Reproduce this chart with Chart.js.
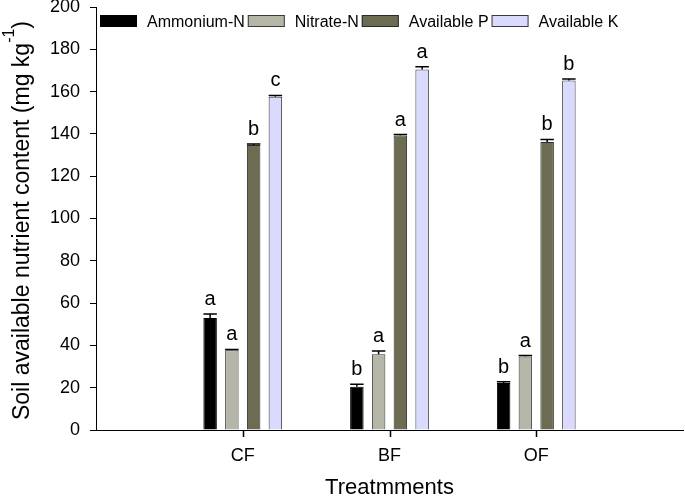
<!DOCTYPE html>
<html>
<head>
<meta charset="utf-8">
<script src="https://cdn.jsdelivr.net/npm/chart.js@4.4.1/dist/chart.umd.min.js"></script>
<style>
  html, body { margin: 0; padding: 0; background: #fff; }
  #wrap { width: 685px; height: 496px; position: relative; }
</style>
</head>
<body>
<div id="wrap"><canvas id="chart"></canvas></div>
<script>
// Categories (empty slots at the ends give the axis its margins)
const categories = ['', 'CF', 'BF', 'OF', ''];
const yTicks = [0, 20, 40, 60, 80, 100, 120, 140, 160, 180, 200];

// Series values (mg kg-1)
const ammoniumN = [null, 52.9, 20.5, 22.2, null];
const nitrateN = [null, 37.7, 35.8, 34.8, null];
const availableP = [null, 134.8, 139.3, 136.2, null];
const availableK = [null, 157.6, 170.5, 165.2, null];

// Standard errors
const ammoniumErr = [null, 2.0, 1.1, 0.6, null];
const nitrateErr = [null, 0.4, 1.5, 0.4, null];
const availablePErr = [null, 0.4, 0.4, 1.2, null];
const availableKErr = [null, 0.6, 1.2, 0.8, null];

// Significance letters
const ammoniumSig = [null, 'a', 'b', 'b', null];
const nitrateSig = [null, 'a', 'a', 'a', null];
const availablePSig = [null, 'b', 'a', 'b', null];
const availableKSig = [null, 'c', 'a', 'b', null];

const fontFamily = "'Liberation Sans', Arial, sans-serif";
Chart.defaults.font.family = fontFamily;
Chart.defaults.color = '#000';

// Error bars and letters on top of each bar
const errorBarPlugin = {
    id: 'errorBars',
    afterDatasetsDraw(chart) {
        const ctx = chart.ctx;
        const yScale = chart.scales.y;
        chart.data.datasets.forEach((ds, i) => {
            const meta = chart.getDatasetMeta(i);
            meta.data.forEach((bar, j) => {
                const v = ds.data[j];
                if (v === null || v === undefined) return;
                const err = ds.errors[j] || 0;
                const yTop = yScale.getPixelForValue(v + err);
                const half = bar.width / 2;
                ctx.save();
                ctx.strokeStyle = '#000';
                ctx.lineWidth = 1.5;
                ctx.beginPath();
                ctx.moveTo(bar.x, bar.y);
                ctx.lineTo(bar.x, yTop);
                ctx.moveTo(bar.x - half, yTop);
                ctx.lineTo(bar.x + half, yTop);
                ctx.stroke();
                ctx.fillStyle = '#000';
                ctx.font = '20px ' + fontFamily;
                ctx.textAlign = 'center';
                ctx.textBaseline = 'alphabetic';
                ctx.fillText(ds.letters[j], bar.x, yTop - 9);
                ctx.restore();
            });
        });
    }
};

// Tick marks under the labelled treatments only (centre of each bar group)
const xTickPlugin = {
    id: 'xTicks',
    afterDraw(chart) {
        const ctx = chart.ctx;
        const first = chart.getDatasetMeta(0).data;
        const last = chart.getDatasetMeta(chart.data.datasets.length - 1).data;
        const yBase = chart.scales.y.getPixelForValue(0);
        ctx.save();
        ctx.strokeStyle = '#000000';
        ctx.lineWidth = 1.5;
        categories.forEach((c, i) => {
            if (!c || !first[i] || !last[i]) return;
            const px = Math.round((first[i].x + last[i].x) / 2) + 0.5;
            ctx.beginPath();
            ctx.moveTo(px, yBase);
            ctx.lineTo(px, yBase + 7);
            ctx.stroke();
        });
        ctx.restore();
    }
};

// Horizontal legend laid over the top of the plot
const legendPlugin = {
    id: 'insideLegend',
    afterDraw(chart) {
        const ctx = chart.ctx;
        const area = chart.chartArea;
        let x = area.left + 4;
        const yBox = area.top + 8;
        ctx.save();
        ctx.font = '16px ' + fontFamily;
        ctx.textBaseline = 'alphabetic';
        ctx.textAlign = 'left';
        chart.data.datasets.forEach(ds => {
            ctx.fillStyle = ds.backgroundColor;
            ctx.fillRect(x, yBox, 37, 12);
            ctx.strokeStyle = ds.borderColor;
            ctx.lineWidth = 1;
            ctx.strokeRect(x + 0.5, yBox + 0.5, 36, 11);
            ctx.fillStyle = '#000';
            ctx.fillText(ds.label, x + 47, yBox + 12);
            x += 47 + ctx.measureText(ds.label).width + 3;
        });
        ctx.restore();
    }
};

// Y axis title with a superscript
const yTitlePlugin = {
    id: 'yTitle',
    afterDraw(chart) {
        const ctx = chart.ctx;
        const area = chart.chartArea;
        const mainFont = '23px ' + fontFamily;
        const supFont = '16px ' + fontFamily;
        const part1 = 'Soil available nutrient content (mg kg';
        const sup = '-1';
        const part2 = ')';
        ctx.save();
        ctx.font = mainFont;
        const w1 = ctx.measureText(part1).width;
        const w3 = ctx.measureText(part2).width;
        ctx.font = supFont;
        const w2 = ctx.measureText(sup).width;
        const total = w1 + w2 + w3;
        ctx.translate(28.5, (area.top + area.bottom) / 2 + 2);
        ctx.rotate(-Math.PI / 2);
        ctx.fillStyle = '#000';
        ctx.textBaseline = 'alphabetic';
        ctx.textAlign = 'left';
        let x = -total / 2;
        ctx.font = mainFont;
        ctx.fillText(part1, x, 0);
        x += w1;
        ctx.font = supFont;
        ctx.fillText(sup, x, -15);
        x += w2;
        ctx.font = mainFont;
        ctx.fillText(part2, x, 0);
        ctx.restore();
    }
};

const ctx = document.getElementById('chart').getContext('2d');
const chart = new Chart(ctx, {
    type: 'bar',
    data: {
        labels: categories,
        datasets: [
            {
                label: 'Ammonium-N',
                data: ammoniumN,
                errors: ammoniumErr,
                letters: ammoniumSig,
                backgroundColor: '#000000',
                borderColor: '#000000',
                borderWidth: 1
            },
            {
                label: 'Nitrate-N',
                data: nitrateN,
                errors: nitrateErr,
                letters: nitrateSig,
                backgroundColor: '#b6b6a8',
                borderColor: '#3a3a3a',
                borderWidth: 1
            },
            {
                label: 'Available P',
                data: availableP,
                errors: availablePErr,
                letters: availablePSig,
                backgroundColor: '#6c6c53',
                borderColor: '#2a2a2a',
                borderWidth: 1
            },
            {
                label: 'Available K',
                data: availableK,
                errors: availableKErr,
                letters: availableKSig,
                backgroundColor: '#dadaff',
                borderColor: '#3a3a3a',
                borderWidth: 1
            }
        ]
    },
    options: {
        responsive: true,
        maintainAspectRatio: false,
        animation: false,
        categoryPercentage: 0.593,
        barPercentage: 0.62,
        layout: {
            padding: { left: 0, top: 7, right: 2, bottom: 0 }
        },
        plugins: {
            legend: { display: false },
            tooltip: { enabled: false }
        },
        scales: {
            x: {
                type: 'category',
                offset: false,
                grid: {
                    display: false,
                    drawTicks: false
                },
                border: { display: true, color: '#000', width: 1 },
                ticks: {
                    color: '#000',
                    font: { size: 18 },
                    padding: 15,
                    maxRotation: 0,
                    autoSkip: false
                },
                title: {
                    display: true,
                    text: 'Treatmments',
                    color: '#000',
                    font: { size: 22, lineHeight: 1 },
                    padding: { top: 0, bottom: -3 }
                },
                afterFit: function (scale) {
                    scale.height = 66;
                    scale.paddingLeft = 0;
                    scale.paddingRight = 0;
                }
            },
            y: {
                min: 0,
                max: 200,
                afterBuildTicks: function (scale) {
                    scale.ticks = yTicks.map(v => ({ value: v }));
                },
                grid: {
                    drawOnChartArea: false,
                    drawTicks: true,
                    tickLength: 6,
                    color: '#000'
                },
                border: { color: '#000', width: 1 },
                ticks: {
                    color: '#000',
                    font: { size: 18 },
                    padding: 10
                },
                afterFit: function (scale) {
                    scale.width = 96;
                    scale.paddingTop = 0;
                    scale.paddingBottom = 0;
                }
            }
        }
    },
    plugins: [errorBarPlugin, xTickPlugin, legendPlugin, yTitlePlugin]
});
</script>
</body>
</html>
